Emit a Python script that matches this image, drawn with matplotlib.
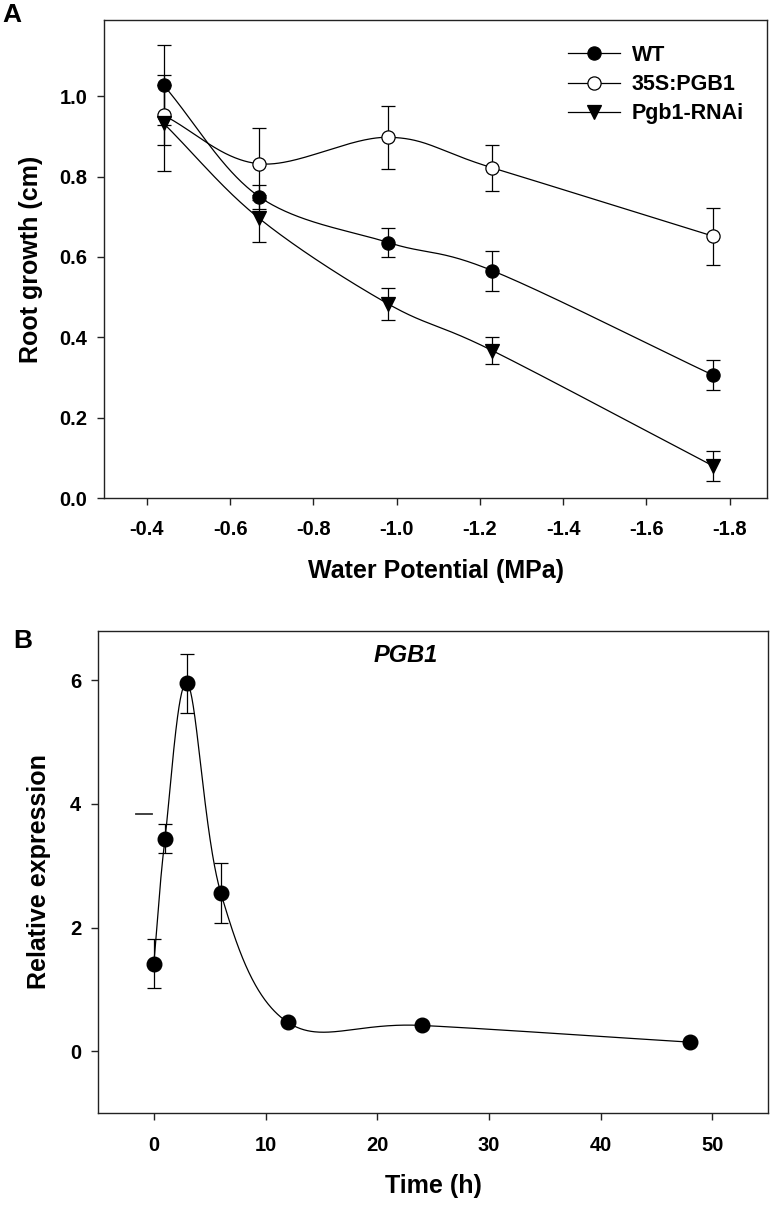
import numpy as np
import matplotlib
matplotlib.use("Agg")
import matplotlib.pyplot as plt
from matplotlib.lines import Line2D

plt.rcParams['font.family'] = ['Liberation Sans', 'DejaVu Sans']
plt.rcParams['font.weight'] = 'bold'

# ---------------- Panel A data ----------------
water_potential = [-0.44, -0.67, -0.98, -1.23, -1.76]
wt_growth = [1.028, 0.750, 0.636, 0.566, 0.306]
wt_err = [0.10, 0.03, 0.036, 0.05, 0.037]
oe_growth = [0.953, 0.832, 0.898, 0.822, 0.652]
oe_err = [0.075, 0.09, 0.078, 0.058, 0.071]
rnai_growth = [0.933, 0.696, 0.483, 0.367, 0.080]
rnai_err = [0.12, 0.058, 0.04, 0.033, 0.037]
series_labels = ['WT', '35S:PGB1', 'Pgb1-RNAi']
a_xticks = [-0.4, -0.6, -0.8, -1.0, -1.2, -1.4, -1.6, -1.8]
a_yticks = [0.0, 0.2, 0.4, 0.6, 0.8, 1.0]

# ---------------- Panel B data ----------------
time_h = [0, 1, 3, 6, 12, 24, 48]
rel_expr = [1.42, 3.44, 5.95, 2.56, 0.47, 0.42, 0.15]
rel_err = [0.40, 0.23, 0.48, 0.485, 0.0, 0.0, 0.0]
stray_cap_x = [-1.6, -0.2]
stray_cap_y = [3.84, 3.84]
b_xticks = [0, 10, 20, 30, 40, 50]
b_yticks = [0, 2, 4, 6]


def catmull_rom(x, y, n=80):
    """Uniform Catmull-Rom curve through the given points."""
    P = np.column_stack([np.asarray(x, float), np.asarray(y, float)])
    P = np.vstack([2 * P[0] - P[1], P, 2 * P[-1] - P[-2]])
    out = []
    t = np.linspace(0, 1, n)[:, None]
    for i in range(1, len(P) - 2):
        p0, p1, p2, p3 = P[i - 1], P[i], P[i + 1], P[i + 2]
        m1 = (p2 - p0) / 2
        m2 = (p3 - p1) / 2
        h00 = 2 * t ** 3 - 3 * t ** 2 + 1
        h10 = t ** 3 - 2 * t ** 2 + t
        h01 = -2 * t ** 3 + 3 * t ** 2
        h11 = t ** 3 - t ** 2
        seg = h00 * p1 + h10 * m1 + h01 * p2 + h11 * m2
        out.append(seg if i == 1 else seg[1:])
    c = np.vstack(out)
    return c[:, 0], c[:, 1]


W, H = 772, 1206
fig = plt.figure(figsize=(W / 100, H / 100), dpi=100)

tick_fs = 14.5
label_fs = 18

# ---------------- Panel A ----------------
axA = fig.add_axes([104 / W, 1 - 498 / H, 663 / W, 478 / H])
styles = [
    dict(marker='o', mfc='black', mec='black', ms=9.5),
    dict(marker='o', mfc='white', mec='black', ms=9.5),
    dict(marker='v', mfc='black', mec='black', ms=10.5),
]
data = [(wt_growth, wt_err), (oe_growth, oe_err), (rnai_growth, rnai_err)]
handles = []
for (yv, ev), st, lab in zip(data, styles, series_labels):
    xs, ys = catmull_rom(water_potential, yv)
    axA.plot(xs, ys, color='black', lw=0.9, zorder=2)
    axA.errorbar(water_potential, yv, yerr=ev, fmt='none', ecolor='black',
                 elinewidth=0.9, capsize=5, capthick=0.9, zorder=3)
    axA.plot(water_potential, yv, ls='none', mew=0.9, zorder=4, **st)
    handles.append(Line2D([], [], color='black', lw=0.9, mew=0.9, **st))

axA.set_xlim(-0.297, -1.89)
axA.set_ylim(0, 1.19)
axA.set_xticks(a_xticks)
axA.set_xticklabels([f'{v:.1f}' for v in a_xticks])
axA.set_yticks(a_yticks)
axA.set_yticklabels([f'{v:.1f}' for v in a_yticks])
axA.set_xlabel('Water Potential (MPa)', fontsize=label_fs, fontweight='bold', labelpad=14)
axA.set_ylabel('Root growth (cm)', fontsize=label_fs, fontweight='bold', labelpad=12)
leg = axA.legend(handles, series_labels, loc='upper left',
                 bbox_to_anchor=(0.700, 0.948), frameon=False,
                 fontsize=15.5, handlelength=2.4, handletextpad=0.55,
                 labelspacing=0.38, borderpad=0, borderaxespad=0)
for t in leg.get_texts():
    t.set_fontweight('bold')

# ---------------- Panel B ----------------
axB = fig.add_axes([98 / W, 1 - 1113.3 / H, 670 / W, 482.6 / H])
xs, ys = catmull_rom(time_h, rel_expr, n=120)
axB.plot(xs, ys, color='black', lw=0.9, zorder=2)
axB.errorbar(time_h, rel_expr, yerr=rel_err, fmt='none', ecolor='black',
             elinewidth=0.9, capsize=5, capthick=0.9, zorder=3)
axB.plot(time_h, rel_expr, ls='none', marker='o', mfc='black', mec='black',
         ms=10.5, zorder=4)
axB.plot(stray_cap_x, stray_cap_y, color='#333333', lw=1.3, zorder=3)
axB.set_xlim(-5, 55)
axB.set_ylim(-1, 6.8)
axB.set_xticks(b_xticks)
axB.set_yticks(b_yticks)
axB.set_xlabel('Time (h)', fontsize=label_fs, fontweight='bold', labelpad=14)
axB.set_ylabel('Relative expression', fontsize=label_fs, fontweight='bold', labelpad=14)
axB.text(22.6, 6.40, 'PGB1', fontsize=17, fontweight='bold', fontstyle='italic',
         ha='center', va='center')

for ax in (axA, axB):
    for sp in ax.spines.values():
        sp.set_linewidth(1.0)
        sp.set_color('#222222')
    ax.tick_params(axis='both', which='both', direction='out', length=5,
                   width=1.0, color='#222222', labelsize=tick_fs,
                   top=False, right=False)
    ax.tick_params(axis='x', pad=11)
    ax.tick_params(axis='y', pad=7)
    for lbl in ax.get_xticklabels() + ax.get_yticklabels():
        lbl.set_fontweight('bold')

fig.text(2 / W, 1 - 22 / H, 'A', fontsize=19, fontweight='bold', ha='left', va='baseline')
fig.text(13 / W, 1 - 648 / H, 'B', fontsize=19, fontweight='bold', ha='left', va='baseline')

fig.savefig('out.png', dpi=100)
